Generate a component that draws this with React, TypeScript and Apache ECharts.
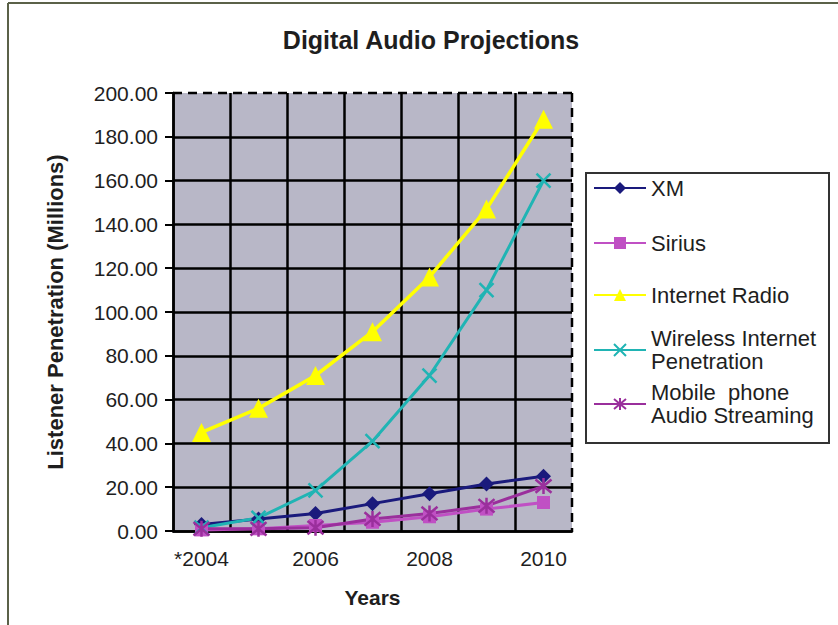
import React, { useEffect, useRef } from "react";
import * as echarts from "echarts";

const categories = ["*2004", "2005", "2006", "2007", "2008", "2009", "2010"];
const xmValues = [3, 5.5, 8, 12.5, 17, 21.5, 25];
const siriusValues = [0.5, 1, 2.5, 4, 6.5, 10, 13];
const internetRadioValues = [45, 56, 71, 91, 116, 147, 188];
const wirelessValues = [1.5, 6, 18.5, 41, 71, 110, 160];
const mobileValues = [1, 1, 1.5, 5.5, 8, 11.5, 20.5];
const seriesNames = [
  "XM",
  "Sirius",
  "Internet Radio",
  "Wireless Internet\nPenetration",
  "Mobile  phone\nAudio Streaming",
];

const FONT = "'Liberation Sans', Arial, Helvetica, sans-serif";
const TXT = "#1e1e1e";

export default function App() {
  const ref = useRef<HTMLDivElement>(null);
  useEffect(() => {
    document.body.style.margin = "0";
    const chart = echarts.init(ref.current!, null, { renderer: "svg" });
    const gridL = 173, gridT = 93, gridR = 572, gridB = 531;
    const legendCenters = [188, 243, 295, 350, 404];
    const multi = [false, false, false, true, true];
    const legends = seriesNames.map((n, i) => ({
      data: [n],
      left: 593,
      top: legendCenters[i] - (multi[i] ? 34.5 : 11.5),
      padding: 0,
      itemWidth: 52,
      itemHeight: 15,
      z: 5,
      textStyle: {
        fontFamily: FONT,
        fontSize: 22,
        color: TXT,
        lineHeight: 23,
        padding: multi[i] ? [23, 0, 0, 0] : 0,
      },
    }));
    const xPath = "path://M0 0L10 10M10 0L0 10";
    const starPath = "path://M0 0L10 10M10 0L0 10M5 -1L5 11";
    chart.setOption({
      animation: false,
      backgroundColor: "#ffffff",
      title: {
        text: "Digital Audio Projections",
        left: 426,
        top: 22,
        textAlign: "center",
        textStyle: { fontFamily: FONT, fontSize: 25, fontWeight: "bold", color: TXT },
      },
      legend: legends,
      grid: {
        left: gridL,
        top: gridT,
        right: 838 - gridR,
        bottom: 625 - gridB,
        show: true,
        backgroundColor: "#b8b7c7",
        borderWidth: 0,
      },
      xAxis: {
        type: "category",
        data: categories,
        boundaryGap: true,
        name: "Years",
        nameLocation: "middle",
        nameGap: 56,
        nameTextStyle: { fontFamily: FONT, fontSize: 21, fontWeight: "bold", color: TXT },
        axisLine: { lineStyle: { color: "#000", width: 2.5 } },
        axisTick: { show: false },
        axisLabel: { interval: 1, margin: 17, fontFamily: FONT, fontSize: 21, color: TXT },
        splitLine: {
          show: true,
          interval: 0,
          showMaxLine: false,
          lineStyle: { color: "#000", width: 2.5 },
        },
      },
      yAxis: {
        type: "value",
        min: 0,
        max: 200,
        interval: 20,
        name: "Listener Penetration (Millions)",
        nameLocation: "middle",
        nameGap: 107,
        nameTextStyle: { fontFamily: FONT, fontSize: 22, fontWeight: "bold", color: TXT },
        axisLine: { show: true, lineStyle: { color: "#000", width: 2.5 } },
        axisTick: { show: true, inside: false, length: 8, lineStyle: { color: "#000", width: 2 } },
        axisLabel: {
          margin: 15,
          fontFamily: FONT,
          fontSize: 21,
          color: TXT,
          formatter: (v: number) => v.toFixed(2),
        },
        splitLine: {
          show: true,
          showMaxLine: false,
          lineStyle: { color: "#000", width: 2.5 },
        },
      },
      series: [
        {
          name: seriesNames[0],
          type: "line",
          data: xmValues,
          symbol: "diamond",
          symbolSize: 15,
          color: "#1a1a7c",
          lineStyle: { width: 3, color: "#1a1a7c" },
          itemStyle: { color: "#1a1a7c" },
        },
        {
          name: seriesNames[1],
          type: "line",
          data: siriusValues,
          symbol: "rect",
          symbolSize: 13,
          color: "#c050c4",
          lineStyle: { width: 3, color: "#c050c4" },
          itemStyle: { color: "#c050c4" },
        },
        {
          name: seriesNames[2],
          type: "line",
          data: internetRadioValues,
          symbol: "triangle",
          symbolSize: 19,
          color: "#ffff00",
          lineStyle: { width: 3.5, color: "#ffff00" },
          itemStyle: { color: "#ffff00" },
        },
        {
          name: seriesNames[3],
          type: "line",
          data: wirelessValues,
          symbol: xPath,
          symbolSize: 14,
          color: "#20b4b4",
          lineStyle: { width: 3, color: "#20b4b4" },
          itemStyle: { color: "#20b4b4", borderColor: "#20b4b4", borderWidth: 2.5 },
        },
        {
          name: seriesNames[4],
          type: "line",
          data: mobileValues,
          symbol: starPath,
          symbolSize: 16,
          color: "#9a2f9c",
          lineStyle: { width: 3, color: "#9a2f9c" },
          itemStyle: { color: "#9a2f9c", borderColor: "#9a2f9c", borderWidth: 2.5 },
        },
      ],
      graphic: [
        {
          type: "rect",
          z: 0,
          shape: { x: 586, y: 173, width: 243, height: 270 },
          style: { fill: "#ffffff", stroke: "#333", lineWidth: 2 },
        },
        {
          type: "line",
          z: 3,
          shape: { x1: gridL, y1: gridT, x2: gridR, y2: gridT },
          style: { stroke: "#000", lineWidth: 2.5, lineDash: [9, 6] },
        },
        {
          type: "line",
          z: 3,
          shape: { x1: gridR, y1: gridT, x2: gridR, y2: gridB },
          style: { stroke: "#000", lineWidth: 2.5, lineDash: [9, 6] },
        },
        {
          type: "line",
          z: 3,
          shape: { x1: 8, y1: 3, x2: 838, y2: 3 },
          style: { stroke: "#5b6148", lineWidth: 2 },
        },
        {
          type: "line",
          z: 3,
          shape: { x1: 8, y1: 3, x2: 8, y2: 625 },
          style: { stroke: "#5b6148", lineWidth: 2 },
        },
      ],
    });
    return () => chart.dispose();
  }, []);
  return <div ref={ref} style={{ width: 838, height: 625 }} />;
}
